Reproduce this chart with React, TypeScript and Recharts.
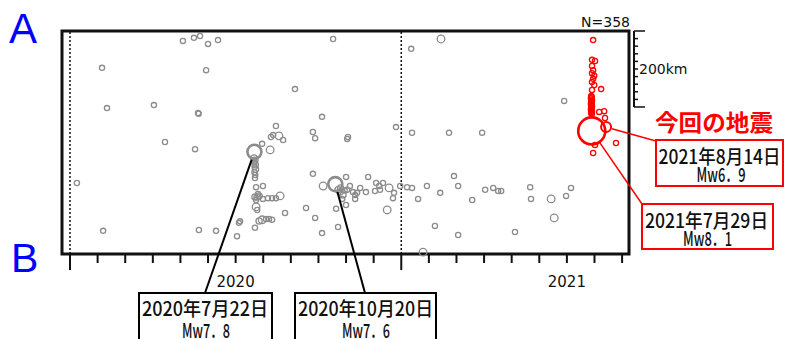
import React from 'react';
import { ScatterChart, Scatter, XAxis, YAxis, ReferenceLine, ReferenceArea } from 'recharts';

// x: months since 2020-01-01, y: distance from A toward B (km), third value: magnitude
const X_MIN = -0.29;
const X_MAX = 20.25;
const Y_MAX = 587;

const monthTicks = [0, 1, 2, 3, 4, 5, 6, 7, 8, 9, 10, 11, 12, 13, 14, 15, 16, 17, 18, 19, 20];
const yearStartTicks = [0, 12];
const yearLabels: { tick: number; label: string }[] = [
  { tick: 6, label: '2020' },
  { tick: 18, label: '2021' },
];
const scaleTicks = [0, 20, 40, 60, 80, 100, 120, 140, 160, 180, 200];
const scaleLabel = '200km';
const countLabel = 'N=358';

type Ev = [number, number, number];

const grayEarly2020: Ev[] = [
  [4.09, 26, 5.0], [4.49, 18, 5.0], [4.71, 13, 5.0], [5.0, 34, 5.0], [5.36, 24, 5.0],
  [1.16, 97, 5.0], [4.93, 103, 5.0], [1.34, 203, 5.0], [3.04, 195, 5.0], [4.64, 216, 5.0],
  [4.66, 218, 5.0], [3.44, 292, 5.0], [4.53, 311, 5.0], [0.25, 400, 5.0], [1.2, 526, 5.0],
  [4.67, 524, 5.0], [5.29, 526, 5.0], [6.05, 540, 5.0], [6.12, 505, 5.0], [6.16, 501, 5.0],
];

const grayJul2020: Ev[] = [
  [7.46, 250, 5.0], [7.28, 279, 5.0], [7.36, 274, 5.0], [7.57, 276, 5.5], [7.72, 287, 5.0],
  [6.96, 297, 5.0], [7.25, 313, 5.5],
  [6.67, 334, 5.2], [6.7, 340, 5.2], [6.68, 346, 5.0], [6.71, 352, 5.2], [6.69, 358, 5.0],
  [6.72, 364, 5.2], [6.68, 372, 5.0], [6.71, 379, 5.0], [6.7, 387, 5.0],
  [6.74, 411, 5.0], [6.99, 408, 5.0],
  [6.7, 437, 5.2], [6.78, 437, 5.2], [6.85, 434, 5.4], [6.81, 429, 5.0], [6.99, 442, 5.0],
  [7.17, 440, 5.0], [7.32, 440, 5.0], [7.46, 440, 5.0], [7.61, 434, 5.5], [6.74, 445, 5.0],
  [6.74, 463, 5.5], [6.78, 471, 5.0], [7.79, 479, 5.0], [8.55, 466, 5.0],
  [6.85, 500, 5.2], [6.96, 497, 5.7], [7.1, 495, 5.0], [7.21, 495, 5.0], [7.32, 497, 5.0],
  [6.7, 518, 5.0],
];

const grayOct2020: Ev[] = [
  [9.53, 21, 5.0], [8.15, 153, 5.0], [9.13, 226, 5.0], [8.8, 266, 5.0], [8.88, 282, 5.0],
  [10.07, 279, 5.0], [10.04, 284, 5.0], [11.81, 253, 5.0],
  [8.8, 376, 5.0], [9.17, 408, 5.5], [10.0, 384, 5.0],
  [10.14, 408, 5.0], [10.04, 418, 5.0], [10.25, 424, 5.0], [10.4, 426, 5.0], [10.51, 413, 5.0],
  [10.72, 424, 5.0], [10.33, 432, 5.0], [9.78, 424, 5.2], [9.89, 432, 5.2], [9.71, 418, 5.2],
  [9.8, 413, 5.2], [9.95, 420, 5.0],
  [10.8, 384, 5.0], [11.09, 400, 5.0], [11.2, 408, 5.0], [11.34, 400, 5.0], [11.23, 418, 5.0],
  [11.05, 421, 5.0], [11.56, 413, 5.5], [11.74, 426, 5.0], [11.7, 440, 5.0], [11.96, 408, 5.0],
  [9.64, 468, 5.0], [9.86, 442, 5.0], [10.0, 458, 5.0], [10.33, 442, 5.0], [11.49, 471, 5.7],
  [8.88, 492, 5.0], [9.71, 516, 5.0], [9.13, 532, 5.0],
];

const gray2021: Ev[] = [
  [12.21, 411, 5.0], [12.39, 413, 5.0], [12.61, 442, 5.0], [12.93, 408, 5.0], [13.41, 426, 5.0],
  [13.91, 382, 5.0], [14.06, 408, 5.0], [14.57, 445, 5.0], [15.04, 418, 5.0], [15.33, 413, 5.0],
  [15.51, 421, 5.0], [15.62, 421, 5.0], [13.22, 513, 5.0], [14.06, 537, 5.0], [16.12, 529, 5.0],
  [12.79, 582, 5.6], [12.36, 47, 5.0], [13.44, 21, 5.6], [12.39, 268, 5.0], [13.73, 268, 5.0],
  [14.93, 268, 5.0], [17.9, 184, 5.0], [16.67, 411, 5.0], [16.7, 442, 5.0], [17.43, 442, 5.6],
  [17.97, 434, 5.0], [18.15, 413, 5.0], [17.54, 492, 5.6],
];

const redAug2021: Ev[] = [
  [18.95, 24, 5.0], [18.91, 76, 5.0], [19.02, 79, 5.0], [18.91, 92, 5.0], [18.95, 103, 5.0],
  [18.91, 111, 5.0], [18.99, 118, 5.0], [18.95, 126, 5.0], [18.91, 134, 5.0], [18.99, 142, 5.0],
  [18.91, 155, 5.0], [19.24, 153, 5.0],
  [18.88, 171, 5.0], [18.9, 174, 5.0], [18.87, 177, 5.0], [18.89, 180, 5.0], [18.91, 183, 5.0],
  [18.88, 186, 5.0], [18.9, 189, 5.0], [18.87, 192, 5.0], [18.89, 195, 5.0], [18.91, 198, 5.0],
  [18.88, 201, 5.0], [18.9, 204, 5.0], [18.87, 207, 5.0], [18.89, 210, 5.0], [18.91, 213, 5.0],
  [18.88, 216, 5.0], [18.9, 219, 5.0],
  [19.17, 213, 5.0], [19.35, 211, 5.0], [19.38, 229, 5.0], [19.78, 295, 5.0], [19.02, 300, 5.0],
  [18.95, 321, 5.0],
];

const grayMainShocks = [
  { id: 'jul2020', x: 6.68, y: 318, mag: 7.8, date: '2020年7月22日', mw: 'Mw7．8' },
  { id: 'oct2020', x: 9.61, y: 403, mag: 7.6, date: '2020年10月20日', mw: 'Mw7．6' },
];
const redMainShocks = [
  { id: 'jul2021', x: 18.9, y: 263, mag: 8.1, date: '2021年7月29日', mw: 'Mw8．1' },
  { id: 'aug2021', x: 19.42, y: 253, mag: 6.9, date: '2021年8月14日', mw: 'Mw6．9' },
];
const currentQuakeLabel = '今回の地震';

// ---- layout (pixels) ----
const PLOT = { left: 62, top: 31, width: 567, height: 223 };
const PX_PER_MONTH = PLOT.width / (X_MAX - X_MIN);
const GRAY = '#8c8c8c';
const RED = '#ff0000';
const JP = "'Noto Sans CJK JP', sans-serif";
const DEJAVU = "'DejaVu Sans', sans-serif";

// scale bar drawn just right of the frame (offsets in px converted through the x scale)
const SCALE_X = X_MAX + 5 / PX_PER_MONTH;
const SHORT_TICK = 4 / PX_PER_MONTH;
const LONG_TICK = 11 / PX_PER_MONTH;

const LAYOUT: Record<string, any> = {
  jul2020: { ax: 205, ay: 293, box: [139, 293, 133, 60], l1: [205, 316, 126], l2: [206, 338, 48], color: '#000', lineW: 2 },
  oct2020: { ax: 365, ay: 293, box: [295, 293, 141, 60], l1: [365.5, 316, 135], l2: [366, 338, 48], color: '#000', lineW: 2 },
  jul2021: { ax: 642, ay: 204, box: [642, 204, 131, 45], l1: [706.5, 228, 123], l2: [707.5, 246, 49], color: RED, lineW: 1.5 },
  aug2021: { ax: 656, ay: 141, box: [656, 140, 127, 46], l1: [719.5, 164, 122], l2: [721, 182, 49], color: RED, lineW: 1.5 },
};

const radius = (m: number) =>
  m >= 8 ? 13.5 : m >= 7.5 ? 7 : m >= 6.5 ? 5 : m >= 5.5 ? 3.8 : m >= 5.2 ? 3.1 : 2.6;

const toPts = (arr: Ev[]) => arr.map(([x, y, mag]) => ({ x, y, mag }));
const grayData = toPts([...grayEarly2020, ...grayJul2020, ...grayOct2020, ...gray2021]);
const redData = toPts(redAug2021);

const ring = (color: string, sw: number) => (props: any) => {
  const { cx, cy, payload } = props;
  if (cx == null || cy == null) return <g />;
  return <circle cx={cx} cy={cy} r={radius(payload.mag)} fill="none" stroke={color} strokeWidth={sw} />;
};

const mainShape = (color: string) => (props: any) => {
  const { cx, cy, payload } = props;
  if (cx == null || cy == null) return <g />;
  const lay = LAYOUT[payload.id];
  const r = radius(payload.mag);
  const dx = lay.ax - cx;
  const dy = lay.ay - cy;
  const L = Math.hypot(dx, dy) || 1;
  const sx = cx + (dx / L) * (r + 1);
  const sy = cy + (dy / L) * (r + 1);
  const [bx, by, bw, bh] = lay.box;
  return (
    <g>
      <line x1={sx} y1={sy} x2={lay.ax} y2={lay.ay} stroke={lay.color} strokeWidth={lay.lineW} />
      <circle cx={cx} cy={cy} r={r} fill="none" stroke={color} strokeWidth={payload.mag >= 7.5 ? 2.6 : 2} />
      <rect x={bx} y={by} width={bw} height={bh} fill="#fff" stroke={lay.color} strokeWidth={2} />
      <text x={lay.l1[0]} y={lay.l1[1]} textAnchor="middle" fontSize={19.5} fontWeight={500} fontFamily={JP} fill="#111"
        textLength={lay.l1[2]} lengthAdjust="spacingAndGlyphs">{payload.date}</text>
      <text x={lay.l2[0]} y={lay.l2[1]} textAnchor="middle" fontSize={19.5} fontWeight={500} fontFamily={JP} fill="#111"
        textLength={lay.l2[2]} lengthAdjust="spacingAndGlyphs">{payload.mw}</text>
    </g>
  );
};

const MonthTick = (props: any) => {
  const { x, y, payload } = props;
  const v = payload.value;
  const major = yearStartTicks.includes(v);
  const lab = yearLabels.find((l) => l.tick === v);
  return (
    <g>
      <line x1={x} x2={x} y1={y + 1} y2={y + (major ? 16 : 9)} stroke="#111" strokeWidth={2} />
      {lab && (
        <text x={x} y={y + 33} textAnchor="middle" fontSize={15} fontFamily={DEJAVU} fill="#111">
          {lab.label}
        </text>
      )}
    </g>
  );
};

export default function App() {
  const sMax = scaleTicks[scaleTicks.length - 1];
  return (
    <div style={{ position: 'absolute', left: 0, top: 0, width: 785, height: 339, background: '#fff', overflow: 'hidden' }}>
      <ScatterChart
        width={785}
        height={339}
        margin={{ top: PLOT.top, right: 785 - PLOT.left - PLOT.width, bottom: 55, left: PLOT.left }}
      >
        <XAxis
          type="number"
          dataKey="x"
          domain={[X_MIN, X_MAX]}
          ticks={monthTicks}
          interval={0}
          height={30}
          tickSize={0}
          tickMargin={0}
          axisLine={false}
          tickLine={false}
          tick={<MonthTick />}
        />
        <YAxis type="number" dataKey="y" domain={[0, Y_MAX]} reversed hide width={0} />
        <ReferenceLine x={0} stroke="#111" strokeWidth={1.5} strokeDasharray="2 2" />
        <ReferenceLine x={12} stroke="#111" strokeWidth={1.5} strokeDasharray="2 2" />
        <Scatter data={grayData} isAnimationActive={false} shape={ring(GRAY, 1.3)} />
        <Scatter data={redData} isAnimationActive={false} shape={ring(RED, 1.3)} />
        <Scatter data={grayMainShocks} isAnimationActive={false} shape={mainShape(GRAY)} />
        <Scatter data={redMainShocks} isAnimationActive={false} shape={mainShape(RED)} />
        <ReferenceArea
          x1={X_MIN}
          x2={X_MAX}
          y1={0}
          y2={Y_MAX}
          fill="none"
          fillOpacity={0}
          stroke="#111"
          strokeWidth={3}
          ifOverflow="visible"
        />
        {/* distance scale bar */}
        <ReferenceLine
          ifOverflow="visible"
          segment={[{ x: SCALE_X, y: 0 }, { x: SCALE_X, y: sMax }]}
          stroke="#111"
          strokeWidth={2}
        />
        {scaleTicks.map((v) => {
          const end = v === 0 || v === sMax;
          return (
            <ReferenceLine
              key={'st' + v}
              ifOverflow="visible"
              segment={[{ x: SCALE_X, y: v }, { x: SCALE_X + (end ? LONG_TICK : SHORT_TICK), y: v }]}
              stroke="#111"
              strokeWidth={1.5}
              label={
                v === sMax / 2
                  ? { value: scaleLabel, position: 'right', offset: 1, fontSize: 14, fill: '#111', fontFamily: DEJAVU }
                  : undefined
              }
            />
          );
        })}
      </ScatterChart>
      <svg width={785} height={339} style={{ position: 'absolute', left: 0, top: 0, pointerEvents: 'none' }}>
        <text x={9} y={43} fontSize={42} fill="#0000ff" fontFamily="'Liberation Sans', Arial, sans-serif">A</text>
        <text x={11} y={272} fontSize={41} fill="#0000ff" fontFamily="'Liberation Sans', Arial, sans-serif">B</text>
        <text x={630} y={27} fontSize={14} textAnchor="end" fill="#111" fontFamily={DEJAVU}>{countLabel}</text>
        <text x={655} y={131} fontSize={23} fontWeight="bold" fill={RED} fontFamily={JP}
          textLength={118} lengthAdjust="spacingAndGlyphs">{currentQuakeLabel}</text>
      </svg>
    </div>
  );
}
